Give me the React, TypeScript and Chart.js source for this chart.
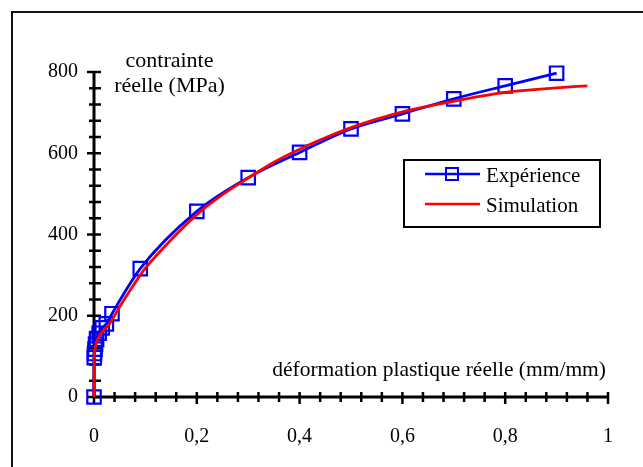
import React, { useEffect, useRef } from "react";
import { Chart, registerables } from "chart.js";

Chart.register(...registerables);

// Expérience (measured)
const expX = [0, 0.0005, 0.001, 0.002, 0.003, 0.005, 0.01, 0.016, 0.024, 0.035, 0.09, 0.2, 0.3, 0.4, 0.5, 0.6, 0.7, 0.8, 0.9];
const expY = [0, 97, 107, 118, 130, 142, 157, 170, 180, 205, 316, 457, 540, 602, 660, 697, 734, 766, 797];

// Simulation
const simX = [0, 0.0005, 0.002, 0.005, 0.01, 0.02, 0.03, 0.05, 0.07, 0.09, 0.1, 0.15, 0.2, 0.25, 0.3, 0.35, 0.4, 0.45, 0.5, 0.55, 0.6, 0.65, 0.7, 0.75, 0.8, 0.85, 0.9, 0.96];
const simY = [0, 100, 118, 135, 150, 166, 180, 222, 262, 300, 317, 387, 449, 498, 539, 578, 610, 638, 663, 684, 702, 716, 728, 740, 750, 756, 761, 766];

const xTickValues = [0, 0.2, 0.4, 0.6, 0.8, 1];
const yTickValues = [0, 200, 400, 600, 800];
const xTitle = "déformation plastique réelle (mm/mm)";
const yTitle = ["contrainte", "réelle (MPa)"];
const seriesNames = ["Expérience", "Simulation"];

const FONT = '"Liberation Serif", "Times New Roman", serif';
const BLUE = "#0000ff";
const RED = "#ff0000";

const decorPlugin = {
  id: "decor",
  beforeDraw(chart: any) {
    const ctx = chart.ctx;
    ctx.save();
    ctx.fillStyle = "#fff";
    ctx.fillRect(0, 0, chart.width, chart.height);
    ctx.strokeStyle = "#111";
    ctx.lineWidth = 2;
    ctx.beginPath();
    ctx.moveTo(12, chart.height + 5);
    ctx.lineTo(12, 12);
    ctx.lineTo(chart.width + 5, 12);
    ctx.stroke();
    ctx.restore();
  },
  beforeDatasetsDraw(chart: any) {
    const { ctx, scales } = chart;
    const xs = scales.x;
    const ys = scales.y;
    const x0 = xs.getPixelForValue(0);
    const y0 = ys.getPixelForValue(0);
    ctx.save();
    ctx.strokeStyle = "#000";
    ctx.lineWidth = 3;
    ctx.beginPath();
    ctx.moveTo(x0, y0);
    ctx.lineTo(x0, ys.getPixelForValue(800));
    ctx.moveTo(x0, y0);
    ctx.lineTo(xs.getPixelForValue(1), y0);
    ctx.stroke();
    ctx.lineWidth = 2.5;
    ctx.beginPath();
    for (let i = 0; i <= 20; i++) {
      const py = ys.getPixelForValue(i * 40);
      const major = i % 5 === 0;
      ctx.moveTo(x0 - (major ? 7 : 5), py);
      ctx.lineTo(x0 + 7, py);
    }
    for (let i = 0; i <= 25; i++) {
      const px = xs.getPixelForValue(i * 0.04);
      const major = i % 5 === 0;
      ctx.moveTo(px, y0 - 5);
      ctx.lineTo(px, y0 + (major ? 7 : 5));
    }
    ctx.stroke();
    ctx.restore();
  },
  afterDraw(chart: any) {
    const ctx = chart.ctx;
    ctx.save();
    ctx.fillStyle = "#000";
    ctx.font = `22px ${FONT}`;
    ctx.textBaseline = "alphabetic";
    ctx.textAlign = "center";
    ctx.fillText(yTitle[0], 169.5, 66.5);
    ctx.fillText(yTitle[1], 169.5, 92);
    ctx.textAlign = "right";
    ctx.font = `21.5px ${FONT}`;
    ctx.fillText(xTitle, 606, 376);

    // legend
    ctx.fillStyle = "#fff";
    ctx.fillRect(404, 160, 196, 67);
    ctx.strokeStyle = "#000";
    ctx.lineWidth = 2;
    ctx.strokeRect(404, 160, 196, 67);
    ctx.lineWidth = 2.5;
    ctx.strokeStyle = BLUE;
    ctx.beginPath();
    ctx.moveTo(425, 174);
    ctx.lineTo(480, 174);
    ctx.stroke();
    ctx.lineWidth = 2;
    ctx.strokeRect(446, 168, 12, 12);
    ctx.strokeStyle = RED;
    ctx.lineWidth = 2.5;
    ctx.beginPath();
    ctx.moveTo(425, 204);
    ctx.lineTo(480, 204);
    ctx.stroke();
    ctx.fillStyle = "#000";
    ctx.textAlign = "left";
    ctx.font = `21px ${FONT}`;
    ctx.fillText(seriesNames[0], 486, 181.5);
    ctx.fillText(seriesNames[1], 486, 211.5);
    ctx.restore();
  },
};

export default function App() {
  const ref = useRef<HTMLCanvasElement | null>(null);
  useEffect(() => {
    document.body.style.margin = "0";
    document.body.style.overflow = "hidden";
    const canvas = ref.current;
    if (!canvas) return;
    const chart = new Chart(canvas, {
      type: "line",
      data: {
        datasets: [
          {
            label: seriesNames[1],
            data: simX.map((x, i) => ({ x, y: simY[i] })),
            borderColor: RED,
            borderWidth: 2.8,
            pointRadius: 0,
            cubicInterpolationMode: "monotone",
            fill: false,
            clip: false as any,
            order: 0,
          },
          {
            label: seriesNames[0],
            data: expX.map((x, i) => ({ x, y: expY[i] })),
            borderColor: BLUE,
            borderWidth: 2.8,
            pointStyle: "rect",
            pointRadius: 9.5,
            pointBorderWidth: 2.2,
            pointBorderColor: BLUE,
            pointBackgroundColor: "rgba(0,0,0,0)",
            cubicInterpolationMode: "monotone",
            fill: false,
            clip: false as any,
            order: 1,
          },
        ],
      },
      options: {
        responsive: false,
        animation: false,
        layout: { padding: { top: 72, right: 35, left: 0, bottom: 0 } },
        plugins: { legend: { display: false }, tooltip: { enabled: false } },
        scales: {
          x: {
            type: "linear",
            min: 0,
            max: 1,
            afterBuildTicks: (s: any) => {
              s.ticks = xTickValues.map((v) => ({ value: v }));
            },
            afterFit: (s: any) => {
              s.height = 70;
            },
            grid: { display: false, drawTicks: false },
            border: { display: false },
            ticks: {
              color: "#000",
              font: { family: FONT, size: 20 },
              padding: 28,
              maxRotation: 0,
              callback: (v: any) => String(v).replace(".", ","),
            },
          },
          y: {
            type: "linear",
            min: 0,
            max: 800,
            afterBuildTicks: (s: any) => {
              s.ticks = yTickValues.map((v) => ({ value: v }));
            },
            afterFit: (s: any) => {
              s.width = 94;
            },
            grid: { display: false, drawTicks: false },
            border: { display: false },
            ticks: {
              color: "#000",
              font: { family: FONT, size: 20 },
              padding: 16,
              callback: (v: any) => String(v),
            },
          },
        },
      },
      plugins: [decorPlugin],
    });
    return () => chart.destroy();
  }, []);
  return (
    <div style={{ position: "fixed", left: 0, top: 0, width: 643, height: 467 }}>
      <canvas ref={ref} width={643} height={467} />
    </div>
  );
}
